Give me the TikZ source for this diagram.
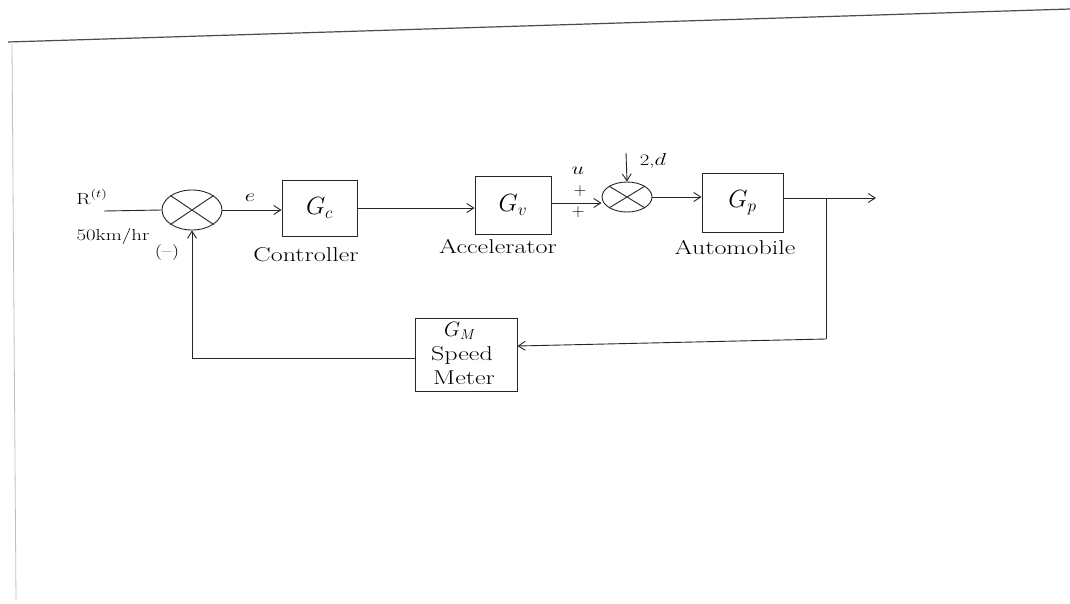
\documentclass[tikz,border=0pt]{standalone}
\usetikzlibrary{arrows.meta,shapes.geometric}
\newcommand{\wtext}[1]{\scalebox{1.3}[1]{#1}}
\begin{document}
\begin{tikzpicture}[x=1pt,y=-1pt,
  ln/.style={line width=0.9pt,draw=black!85},
  arr/.style={ln,-{Straight Barb[length=7pt,width=9pt,line width=0.9pt]}},
  blk/.style={draw=black!85,line width=0.9pt,rectangle,inner sep=0pt},
  sumj/.style={draw=black!85,line width=0.9pt,ellipse,inner sep=0pt},
  lbl/.style={font=\fontsize{20}{24}\selectfont,inner sep=0pt},
  glbl/.style={font=\fontsize{23}{26}\selectfont,inner sep=0pt},
  sml/.style={font=\fontsize{16}{18}\selectfont,inner sep=0pt}]
\useasboundingbox (0,0) rectangle (1070,603);
\fill[white] (0,0) rectangle (1070,603);
% paper edges
\draw[black!70,line width=1.2pt] (8,42) -- (1070,9);
\draw[black!25,line width=0.8pt] (12,44) -- (16,600);
% blocks
\node[blk,minimum width=75pt,minimum height=56pt] (gc) at (319.5,208) {};
\node[glbl] at (gc) {$G_c$};
\node[blk,minimum width=76pt,minimum height=58pt] (gv) at (513,205) {};
\node[glbl] at (gv) {$G_v$};
\node[blk,minimum width=81pt,minimum height=59pt] (gp) at (742.5,202.5) {};
\node[glbl] at (gp) {$G_p$};
\node[blk,minimum width=102pt,minimum height=73pt] (gm) at (466,354.5) {};
\node[lbl] at (460,331) {$G_M$};
\node[lbl] at (462,355) {\wtext{Speed}};
\node[lbl] at (464,378) {\wtext{Meter}};
% summing junctions
\node[sumj,minimum width=60pt,minimum height=40pt] (s1) at (192,210) {};
\draw[ln] (s1.north east) -- (s1.south west) (s1.north west) -- (s1.south east);
\node[sumj,minimum width=50pt,minimum height=30pt] (s2) at (627,197) {};
\draw[ln] (s2.north east) -- (s2.south west) (s2.north west) -- (s2.south east);
% coordinates
\coordinate (rin) at (104,211);
\coordinate (dtop) at (626,153);
\coordinate (br) at (826,198);
\coordinate (yout) at (876,198);
\coordinate (brd) at (826,339);
\coordinate (fbl) at (192,358);
% connectors
\draw[ln] (rin) -- (s1.west);
\draw[arr] (s1.east) -- (gc.west |- s1.east);
\draw[arr] (gc.east |- 0,208) -- (gv.west |- 0,208);
\draw[arr] (gv.east |- 0,203) -- (s2.west |- 0,203);
\draw[arr] (dtop) -- (s2.north);
\draw[arr] (s2.east) -- (gp.west |- s2.east);
\draw[arr] (gp.east |- br) -- (yout);
\draw[ln] (br) -- (brd);
\draw[arr] (brd) -- (gm.east |- 0,346);
\draw[ln] (gm.west |- fbl) -- (fbl);
\draw[arr] (fbl) -- (s1.south);
% labels
\node[sml] (lr) at (92,197) {\wtext{R$^{(t)}$}};
\node[sml] (lkm) at (113,236) {\wtext{50km/hr}};
\node[sml] (lm) at (167,253) {\wtext{(--)}};
\node[sml] (le) at (250,198) {\wtext{$e$}};
\node[sml] (lu) at (578,171) {\wtext{$u$}};
\node[sml] (lp1) at (580,191) {$+$};
\node[sml] (lp2) at (578,212) {$+$};
\node[sml] (ld) at (653,161) {\wtext{2,$d$}};
\node[lbl] (lc) at (306,255) {\wtext{Controller}};
\node[lbl] (la) at (498,247) {\wtext{Accelerator}};
\node[lbl] (lau) at (735,248) {\wtext{Automobile}};
\end{tikzpicture}
\end{document}
